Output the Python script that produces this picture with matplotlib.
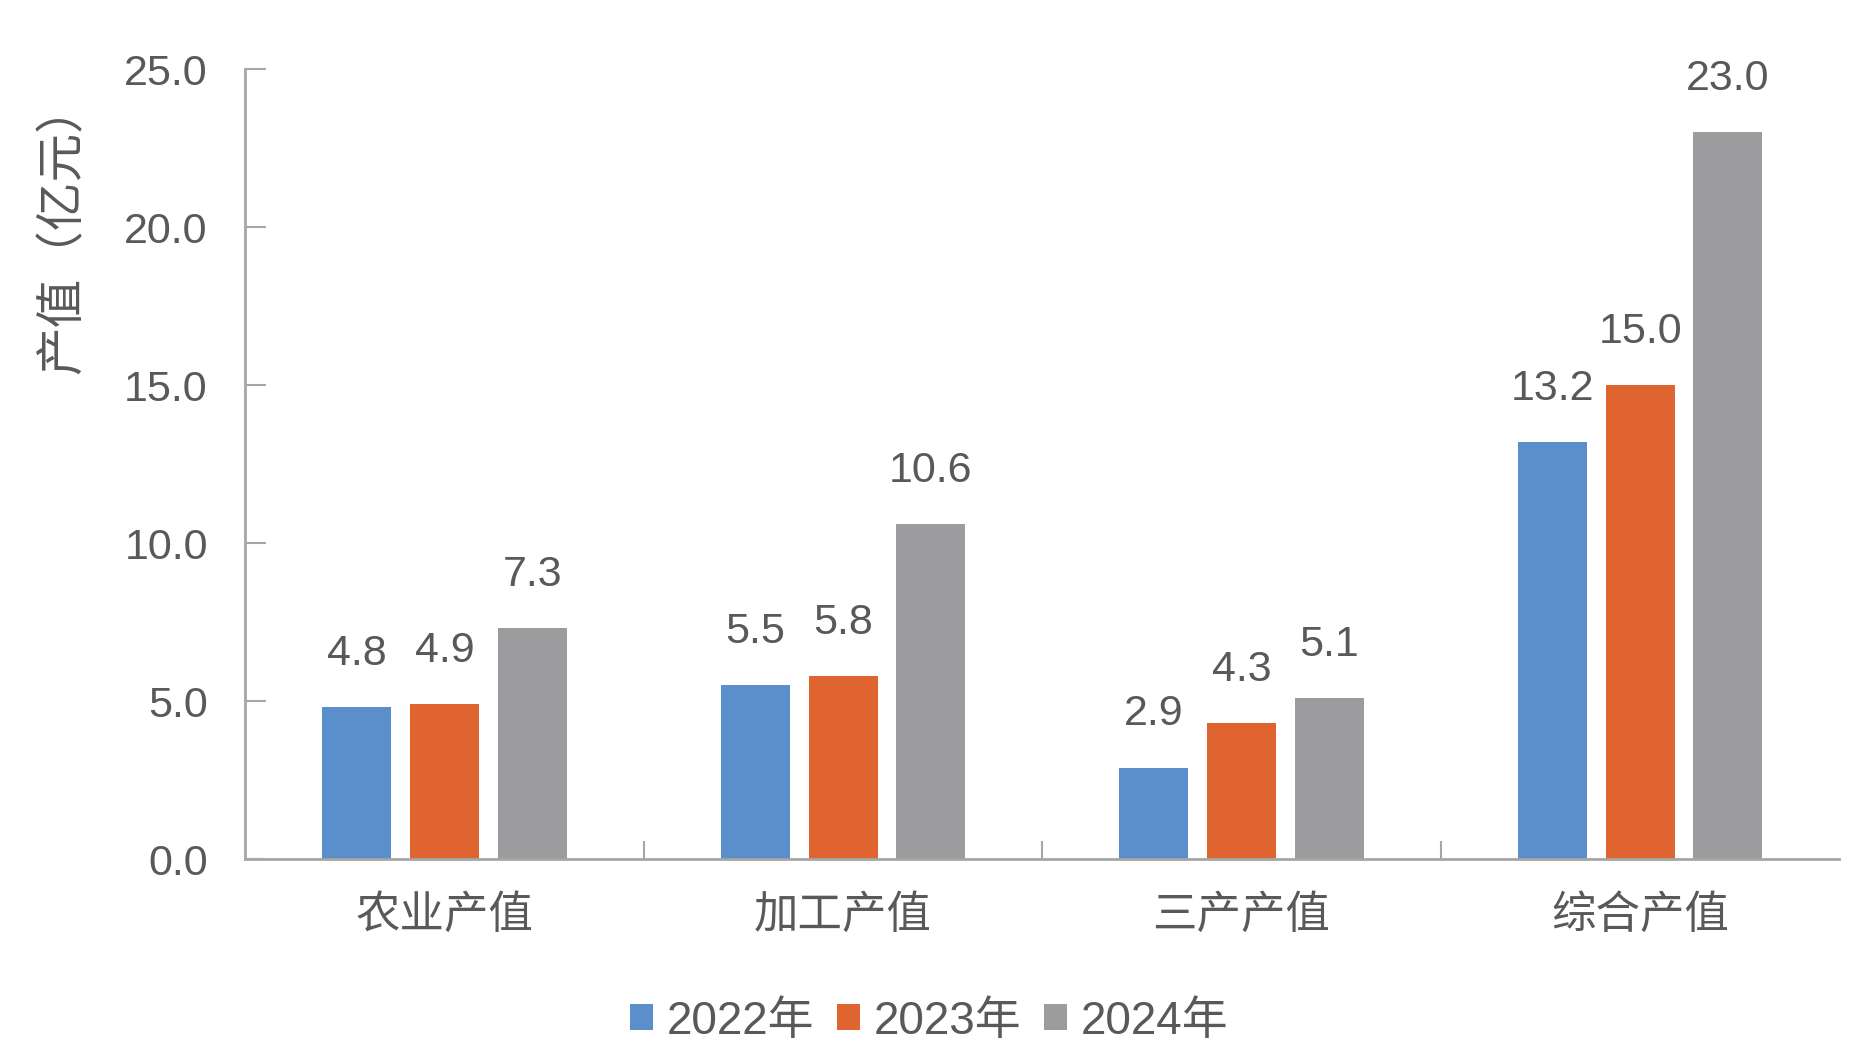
import numpy as np
import matplotlib
matplotlib.use("Agg")
import matplotlib.pyplot as plt

plt.rcParams['font.family'] = ['Liberation Sans', 'Noto Sans CJK SC']

categories = ['农业产值', '加工产值', '三产产值', '综合产值']
years = ['2022年', '2023年', '2024年']
v2022 = [4.8, 5.5, 2.9, 13.2]
v2023 = [4.9, 5.8, 4.3, 15.0]
v2024 = [7.3, 10.6, 5.1, 23.0]
colors = ['#5B8FCC', '#E0642F', '#9C9C9E']

txt = '#595959'
axis_col = '#A6A6A6'

fig = plt.figure(figsize=(18.58, 10.62), dpi=100)
ax = fig.add_axes([0.132, 0.191, 0.858, 0.744])

x = np.arange(len(categories))
w = 0.173
step = 0.22
for i, (vals, c, yr) in enumerate(zip([v2022, v2023, v2024], colors, years)):
    pos = x + (i - 1) * step
    bars = ax.bar(pos, vals, width=w, color=c, label=yr)
    for b, v in zip(bars, vals):
        ax.annotate(f'{v:.1f}', (b.get_x() + b.get_width() / 2, v),
                    xytext=(0, 24), textcoords='offset points',
                    ha='center', va='bottom', fontsize=31, color=txt)

ax.set_xlim(-0.5, len(categories) - 0.5)
ax.set_ylim(0, 25)
ax.set_yticks(np.arange(0, 25.1, 5))
ax.set_yticklabels([f'{t:.1f}' for t in np.arange(0, 25.1, 5)])
ax.tick_params(axis='y', direction='in', length=15, width=1.5, color=axis_col,
               labelsize=31, labelcolor=txt, pad=27)

# category labels and separators
ax.set_xticks(x)
ax.set_xticklabels(categories)
ax.tick_params(axis='x', which='major', length=0, labelsize=32, labelcolor=txt, pad=26)
ax.set_xticks(np.arange(0.5, len(categories) - 0.5, 1), minor=True)
ax.tick_params(axis='x', which='minor', direction='in', length=13, width=1.5, color=axis_col)

for s in ['top', 'right']:
    ax.spines[s].set_visible(False)
for s in ['left', 'bottom']:
    ax.spines[s].set_color(axis_col)
    ax.spines[s].set_linewidth(2)

fig.text(0.034, 0.785, '产值（亿元）', rotation=90, ha='center', va='center',
         fontsize=35, color=txt)

fig.legend(loc='center', bbox_to_anchor=(0.5, 0.038), ncol=3, frameon=False,
           fontsize=33, labelcolor=txt, handlelength=0.5, handleheight=0.5,
           handletextpad=0.3, columnspacing=0.5)

fig.savefig('out.png', dpi=100)
